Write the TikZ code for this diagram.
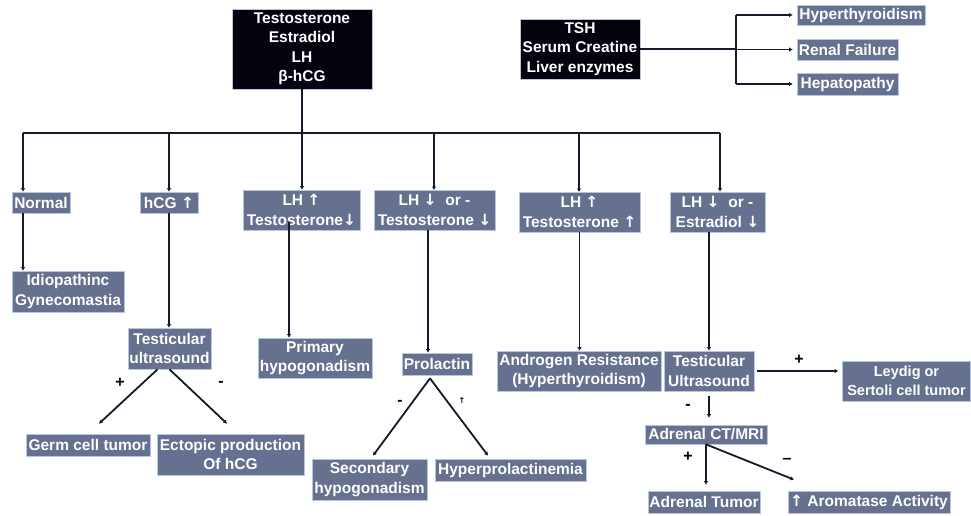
\documentclass[tikz,border=0pt]{standalone}
\usepackage{fontspec}
\setmainfont{Liberation Sans}
\newfontfamily\arrfont{DejaVu Sans}
\newcommand{\UpA}{{\arrfont\bfseries ↑}}
\newcommand{\DnA}{{\arrfont\bfseries ↓}}
\usetikzlibrary{arrows.meta}
\definecolor{boxgrey}{HTML}{66718F}
\definecolor{boxedge}{HTML}{B8C6E4}
\definecolor{darkbox}{HTML}{03030D}
\definecolor{lineink}{HTML}{121A2C}
\tikzset{
  base/.style={inner sep=0pt, align=center, text=white, line width=0.7pt, draw=boxedge,
    font=\bfseries\fontsize{15.5}{19.5}\selectfont},
  dark/.style={base, fill=darkbox},
  grey/.style={base, fill=boxgrey},
  arr/.style={draw=lineink, line width=1.8pt, -{Latex[length=3.5pt,width=4.5pt]}},
  ln/.style={draw=lineink, line width=1.8pt},
  sign/.style={font=\bfseries\fontsize{16}{16}\selectfont, text=black, inner sep=0pt}
}
\begin{document}
\begin{tikzpicture}[x=1pt,y=-1pt]
\useasboundingbox (0,0) rectangle (971,515);
% top boxes
\node[dark, minimum width=140, minimum height=80] (top) at (302,49) {Testosterone\\Estradiol\\LH\\β-hCG};
\node[dark, minimum width=120, minimum height=60] (tsh) at (580,49) {TSH\\Serum Creatine\\Liver enzymes};
\node[grey, minimum width=128, minimum height=20] (hyper) at (861,15) {Hyperthyroidism};
\node[grey, minimum width=101, minimum height=21] (renal) at (847.5,49.5) {Renal Failure};
\node[grey, minimum width=101, minimum height=22] (hepat) at (847.5,84) {Hepatopathy};
% second row
\node[grey, minimum width=58, minimum height=21] (normal) at (41,202.5) {Normal};
\node[grey, minimum width=58, minimum height=21] (hcg) at (169,202.5) {hCG \UpA};
\node[grey, minimum width=117, minimum height=40] (lh1) at (301.5,210) {LH \UpA\\Testosterone\DnA};
\node[grey, minimum width=121, minimum height=40] (lh2) at (434.5,210) {LH \DnA\ \ or -\\Testosterone \DnA};
\node[grey, minimum width=121, minimum height=40] (lh3) at (579.5,212) {LH \UpA\\Testosterone \UpA};
\node[grey, minimum width=95, minimum height=40] (lh4) at (717.5,212) {LH \DnA\ \ or -\\Estradiol \DnA};
% third row
\node[grey, minimum width=112, minimum height=41] (idio) at (68,291.5) {Idiopathinc\\Gynecomastia};
\node[grey, minimum width=83, minimum height=41] (tus1) at (169.5,348.5) {Testicular\\ultrasound};
\node[grey, minimum width=114, minimum height=40] (prim) at (315,358) {Primary\\hypogonadism};
\node[grey, minimum width=70, minimum height=22] (prol) at (437,364) {Prolactin};
\node[grey, minimum width=164, minimum height=40] (andr) at (579,371) {Androgen Resistance\\(Hyperthyroidism)};
\node[grey, minimum width=90, minimum height=40] (tus2) at (709,371) {Testicular\\Ultrasound};
\node[grey, minimum width=128, minimum height=40, font=\bfseries\fontsize{14.5}{19.5}\selectfont] (leydig) at (906.5,381) {Leydig or\\Sertoli cell tumor};
% bottom
\node[grey, minimum width=124, minimum height=22] (germ) at (88,445) {Germ cell tumor};
\node[grey, minimum width=147, minimum height=41] (ecto) at (230.5,454.5) {Ectopic production\\Of hCG};
\node[grey, minimum width=115, minimum height=41] (sec) at (369.5,479.5) {Secondary\\hypogonadism};
\node[grey, minimum width=151, minimum height=22] (hyperprol) at (510.5,470) {Hyperprolactinemia};
\node[grey, minimum width=122, minimum height=19] (adrct) at (706,434.5) {Adrenal CT/MRI};
\node[grey, minimum width=112, minimum height=22] (adrt) at (704,502) {Adrenal Tumor};
\node[grey, minimum width=162, minimum height=22] (arom) at (869,502) {\UpA\ Aromatase Activity};
% bus
\coordinate (busL) at (23,133);
\coordinate (busR) at (720,133);
\coordinate (busM) at (302,133);
\draw[ln] (top.south) -- (busM);
\draw[ln] (busL) -- (busR);
\draw[arr] (busL) -- (busL |- normal.north);
\draw[arr] (hcg.north |- busL) -- (hcg.north);
\draw[arr] (busM) -- (busM |- lh1.north);
\draw[arr] (434,133) -- (434,190);
\draw[arr] (579,133) -- (579,192);
\draw[arr] (busR) -- (busR |- lh4.north);
% TSH bracket
\coordinate (brk) at (736,49);
\draw[ln] (tsh.east) -- (brk);
\draw[ln] (brk |- hyper.west) -- (brk |- hepat.west);
\draw[arr] (brk |- hyper.west) -- ([xshift=-4pt]hyper.west);
\draw[arr] (brk |- renal.west) -- ([xshift=-4pt]renal.west);
\draw[arr] (brk |- hepat.west) -- ([xshift=-4pt]hepat.west);
% second to third row
\draw[arr] (normal.south -| busL) -- (idio.north -| busL);
\draw[arr] (hcg.south) -- (hcg.south |- tus1.north);
\draw[arr] ([xshift=-12.5pt,yshift=-12pt]lh1.center) -- ([xshift=-12.5pt]lh1.center |- prim.north);
\draw[arr] ([xshift=-6.5pt]lh2.south) -- ([xshift=-6.5pt]lh2.south |- prol.north);
\draw[arr] (lh3.south) -- (lh3.south |- andr.north);
\draw[arr] (tus2.north |- lh4.south) -- (tus2.north);
% branches
\draw[arr] ([xshift=-12pt]tus1.south) -- ([xshift=11pt,yshift=10pt]germ.north);
\draw[arr] (tus1.south) -- ([xshift=-3.5pt,yshift=10pt]ecto.north);
\draw[arr] ([xshift=-7pt,yshift=-3pt]prol.south) -- ([xshift=3.5pt,yshift=3pt]sec.north);
\draw[arr] ([xshift=-7pt,yshift=-3pt]prol.south) -- ([xshift=-22.5pt,yshift=3pt]hyperprol.north);
\draw[arr] ([xshift=3pt]tus2.east) -- ([xshift=-4pt]tus2.east -| leydig.west);
\draw[arr] ([yshift=-5pt]tus2.south) -- ([yshift=7pt]tus2.south |- adrct.north);
\draw[arr] (adrct.south) -- ([yshift=6pt]adrct.south |- adrt.north);
\draw[arr] (adrct.south) -- ([xshift=-75pt,yshift=11pt]arom.north);
% signs
\node[sign] (s1) at (120,383) {+};
\node[sign] (s2) at (221,384) {-};
\node[sign] (s3) at (400,403) {-};
\node[sign, font=\fontsize{8}{8}\selectfont] (s4) at (462,401) {\UpA};
\node[sign] (s5) at (799,360) {+};
\node[sign] (s6) at (688,407) {-};
\node[sign] (s7) at (688,457) {+};
\node[sign] (s8) at (787,461) {–};
\end{tikzpicture}
\end{document}
